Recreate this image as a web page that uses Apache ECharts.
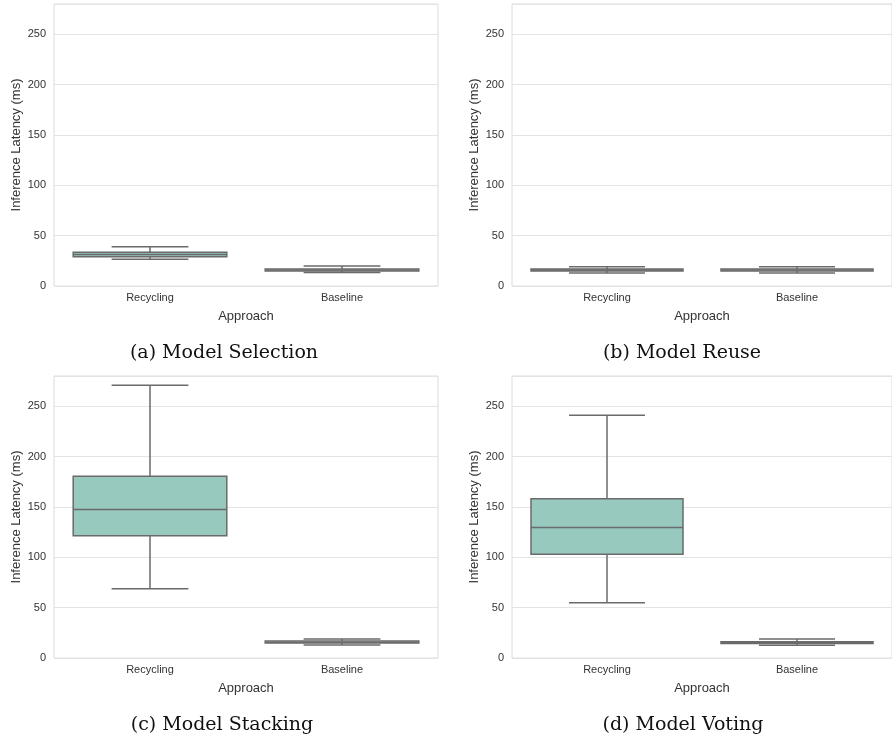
<!DOCTYPE html>
<html>
<head>
<meta charset="utf-8">
<script src="https://cdn.jsdelivr.net/npm/echarts@6/dist/echarts.min.js"></script>
<style>
  html, body { margin: 0; padding: 0; background: #fff; }
  #chart { width: 892px; height: 743px; }
</style>
</head>
<body>
<div id="chart"></div>
<script>
// categories on every panel
const categories = ['Recycling', 'Baseline'];
// [lower whisker, Q1, median, Q3, upper whisker] per category
const selectionStats = [[26.5, 29, 31.4, 33.4, 39], [13.5, 15, 16, 17, 19.8]];
const reuseStats = [[13, 15, 16, 17, 19], [13, 15, 16, 17, 19]];
const stackingStats = [[68.8, 121.3, 147.5, 180.5, 270.8], [12.9, 14.8, 15.6, 16.8, 18.8]];
const votingStats = [[54.9, 102.9, 129.6, 158, 241], [12.6, 14.5, 15.2, 16.2, 18.8]];
const captions = ['(a) Model Selection', '(b) Model Reuse', '(c) Model Stacking', '(d) Model Voting'];
const yTicks = { min: 0, max: 280, interval: 50 };

const boxFill = ['#97c9bf', '#f3f3c4'];
const lineColor = '#6a6a6a';
const textColor = '#333';
const sans = '"Liberation Sans", Arial, sans-serif';

const panels = [
  { stats: selectionStats, left: 54, top: 4, cx: 224, cy: 353 },
  { stats: reuseStats, left: 512, top: 4, cx: 682, cy: 353 },
  { stats: stackingStats, left: 54, top: 376, cx: 222, cy: 725 },
  { stats: votingStats, left: 512, top: 376, cx: 683, cy: 725 }
];

function renderBox(params, api) {
  const ci = api.value(0);
  const band = api.size([1, 0])[0];
  const half = band * 0.4;
  const capHalf = band * 0.2;
  const p = [1, 2, 3, 4, 5].map(d => api.coord([ci, api.value(d)]));
  const x = p[0][0];
  const st = { stroke: lineColor, lineWidth: 1.5, fill: null };
  return {
    type: 'group',
    children: [
      { type: 'line', shape: { x1: x, y1: p[0][1], x2: x, y2: p[1][1] }, style: st },
      { type: 'line', shape: { x1: x, y1: p[3][1], x2: x, y2: p[4][1] }, style: st },
      { type: 'line', shape: { x1: x - capHalf, y1: p[0][1], x2: x + capHalf, y2: p[0][1] }, style: st },
      { type: 'line', shape: { x1: x - capHalf, y1: p[4][1], x2: x + capHalf, y2: p[4][1] }, style: st },
      { type: 'rect', shape: { x: x - half, y: p[3][1], width: half * 2, height: p[1][1] - p[3][1] },
        style: { fill: boxFill[ci], stroke: lineColor, lineWidth: 1.5 } },
      { type: 'line', shape: { x1: x - half, y1: p[2][1], x2: x + half, y2: p[2][1] }, style: st }
    ]
  };
}

const grid = [], xAxis = [], yAxis = [], series = [], graphic = [];
panels.forEach((pn, i) => {
  grid.push({
    left: pn.left, top: pn.top, width: 384, height: 282,
    show: true, borderColor: '#dcdcdc', borderWidth: 1, backgroundColor: '#fff'
  });
  xAxis.push({
    type: 'category', gridIndex: i, data: categories,
    name: 'Approach', nameLocation: 'middle', nameGap: 24,
    nameTextStyle: { fontFamily: sans, fontSize: 13, color: textColor },
    axisLine: { show: false }, axisTick: { show: false },
    axisLabel: { fontFamily: sans, fontSize: 11, color: textColor, margin: 6 },
    splitLine: { show: false }
  });
  yAxis.push({
    type: 'value', gridIndex: i, min: yTicks.min, max: yTicks.max, interval: yTicks.interval,
    name: 'Inference Latency (ms)', nameLocation: 'middle', nameGap: 31,
    nameTextStyle: { fontFamily: sans, fontSize: 13, color: textColor },
    axisLine: { show: false }, axisTick: { show: false },
    axisLabel: { fontFamily: sans, fontSize: 11, color: textColor, margin: 8, showMaxLabel: false },
    splitLine: { lineStyle: { color: '#e4e4e4', width: 1 } }
  });
  series.push({
    type: 'custom', xAxisIndex: i, yAxisIndex: i,
    renderItem: renderBox,
    encode: { x: 0, y: [1, 2, 3, 4, 5] },
    data: pn.stats.map((s, ci) => [ci].concat(s)),
    silent: true
  });
  graphic.push({
    type: 'text', x: pn.cx, y: pn.cy,
    style: {
      text: captions[i], align: 'center', verticalAlign: 'middle',
      fontFamily: '"DejaVu Serif", serif', fontSize: 19, fill: '#111'
    }
  });
});

const chart = echarts.init(document.getElementById('chart'));
chart.setOption({
  animation: false,
  backgroundColor: '#fff',
  grid, xAxis, yAxis, series, graphic
});
</script>
</body>
</html>
